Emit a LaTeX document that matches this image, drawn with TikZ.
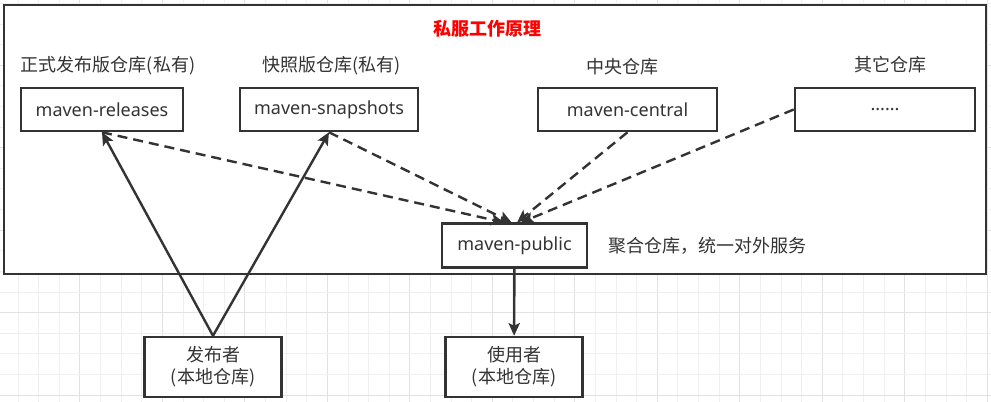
\documentclass[tikz,border=0pt]{standalone}
\usepackage{fontspec}
\setmainfont{Noto Sans}
\newfontfamily\cjk{Noto Sans CJK SC}
\usepackage{tikz}
\usetikzlibrary{arrows.meta, positioning}
\definecolor{linegray}{RGB}{51, 51, 51}
\definecolor{gridlight}{RGB}{240, 240, 240}
\definecolor{griddark}{RGB}{226, 226, 226}
\definecolor{titlered}{RGB}{255, 0, 0}

\begin{document}
\begin{tikzpicture}[
    x=0.75pt, y=-0.75pt,
    frame/.style={draw=linegray, line width=2.2pt, fill=white, minimum width=736.5pt, minimum height=201.75pt},
    repo/.style={draw=linegray, line width=1.9pt, fill=white, minimum height=32.25pt, inner sep=0pt, text=linegray, font=\fontsize{13.5}{16}\selectfont},
    user/.style={repo, minimum width=102.75pt, minimum height=45pt, align=center, font=\cjk\fontsize{13.5}{16.5}\selectfont},
    tag/.style={inner sep=0pt, text=linegray, font=\cjk\fontsize{13.5}{16}\selectfont},
    arrow/.style={-{Stealth[length=9.5pt, width=8.5pt, inset=2pt]}, line width=1.8pt, draw=linegray},
    pull/.style={arrow, dash pattern=on 7.5pt off 4.5pt}
]
    \useasboundingbox (0,0) rectangle (991,402);
    % Background grid
    \foreach \i in {0,...,47} {
        \pgfmathsetmacro{\gx}{18.1+20.62*\i}
        \pgfmathtruncatemacro{\gm}{mod(\i,4)}
        \ifnum\gm=3 \def\gc{griddark}\else\def\gc{gridlight}\fi
        \draw[\gc, line width=0.75pt] (\gx,0) -- (\gx,402);
    }
    \foreach \i in {0,...,19} {
        \pgfmathsetmacro{\gy}{3.4+20.62*\i}
        \pgfmathtruncatemacro{\gm}{mod(\i,4)}
        \ifnum\gm=3 \def\gc{griddark}\else\def\gc{gridlight}\fi
        \draw[\gc, line width=0.75pt] (0,\gy) -- (991,\gy);
    }

    % Private server
    \node[frame] (server) at (495,139.5) {};
    \node[font=\cjk\bfseries\fontsize{13.5}{16}\selectfont, text=titlered] (title) at (487,29) {私服工作原理};

    % Repositories
    \node[repo, minimum width=121.5pt] (releases) at (102,109.5) {maven-releases};
    \node[repo, minimum width=133.5pt] (snapshots) at (329,109.5) {maven-snapshots};
    \node[repo, minimum width=134.25pt] (central) at (627.5,109.5) {maven-central};
    \node[repo, minimum width=135pt] (others) at (885,109.5) {......};
    \node[repo, minimum width=108.75pt, minimum height=33pt] (public) at (514.5,245.7) {maven-public};

    % Labels
    \node[tag, above=8.5pt of releases, xshift=4.5pt] (releasestag) {正式发布版仓库(私有)};
    \node[tag, above=8.5pt of snapshots, xshift=2.2pt] (snapshotstag) {快照版仓库(私有)};
    \node[tag, above=8.5pt of central, xshift=-4pt] (centraltag) {中央仓库};
    \node[tag, above=10pt of others, xshift=3.8pt] (otherstag) {其它仓库};
    \node[tag, right=15pt of public] (note) {聚合仓库，统一对外服务};

    % Local repositories
    \node[user] (publisher) at (213,367) {发布者\\(本地仓库)};
    \node[user] (consumer) at (514,367) {使用者\\(本地仓库)};

    % Relationships
    \draw[arrow] (publisher.north) -- (releases.south);
    \draw[arrow] (publisher.north) -- (snapshots.south);
    \draw[pull] (releases.south) -- ([xshift=-7.9pt]public.north);
    \draw[pull] (snapshots.south) -- ([xshift=-2.2pt]public.north);
    \draw[pull] (central.south) -- ([xshift=1.9pt]public.north);
    \draw[pull] (others.west) -- ([xshift=4.9pt]public.north);
    \draw[arrow] (public) -- (consumer);
\end{tikzpicture}
\end{document}
